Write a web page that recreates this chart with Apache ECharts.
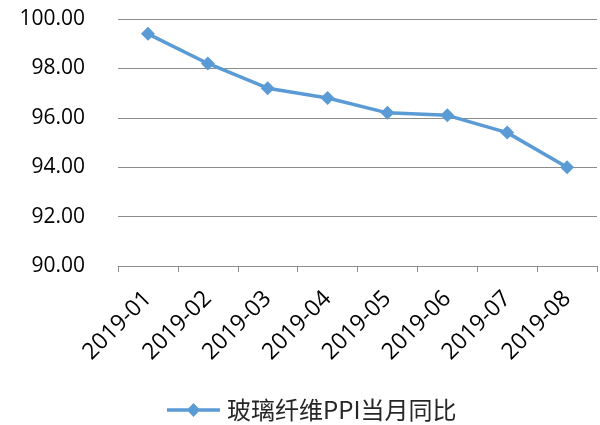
<!DOCTYPE html>
<html>
<head>
<meta charset="utf-8">
<script src="https://cdn.jsdelivr.net/npm/echarts@6/dist/echarts.min.js"></script>
<style>
  html, body { margin: 0; padding: 0; background: #fff; }
  #chart { width: 600px; height: 425px; }
</style>
</head>
<body>
<div id="chart"></div>
<script>
// Monthly glass-fibre PPI (same month of previous year = 100)
const months = ['2019-01', '2019-02', '2019-03', '2019-04', '2019-05', '2019-06', '2019-07', '2019-08'];
const ppiValues = [99.4, 98.2, 97.2, 96.8, 96.2, 96.1, 95.4, 94.0];
const seriesName = '玻璃纤维PPI当月同比';
const yMin = 90, yMax = 100, yStep = 2;

const latinFont = '"Open Sans", "Liberation Sans", sans-serif';
const cjkFont = '"Noto Sans CJK SC", "Open Sans", sans-serif';

// legend marker: a line with a diamond in the middle
const legendIcon = 'path://M0,5.25 L21.5,5.25 L26.5,0 L31.5,5.25 L53,5.25 L53,8.75 L31.5,8.75 L26.5,14 L21.5,8.75 L0,8.75 Z';

const chart = echarts.init(document.getElementById('chart'), null, { renderer: 'canvas' });
chart.setOption({
  animation: false,
  backgroundColor: '#ffffff',
  grid: { left: 118, right: 3, top: 19, bottom: 159, containLabel: false },
  legend: {
    top: 393,
    left: 162,
    itemWidth: 53,
    itemHeight: 14,
    itemGap: 8,
    textStyle: { fontFamily: cjkFont, fontSize: 24, color: '#262626', padding: [0, 0, 0, 2] },
    data: [{ name: seriesName, icon: legendIcon }]
  },
  xAxis: {
    type: 'category',
    data: months,
    boundaryGap: true,
    axisLine: { show: true, lineStyle: { color: '#8c8c8c', width: 1 } },
    axisTick: { show: true, length: 6, lineStyle: { color: '#8c8c8c' } },
    axisLabel: {
      rotate: 45,
      margin: 29,
      fontFamily: latinFont,
      fontSize: 23,
      color: '#000000'
    },
    splitLine: { show: false }
  },
  yAxis: {
    type: 'value',
    min: yMin,
    max: yMax,
    interval: yStep,
    axisLine: { show: false },
    axisTick: { show: false },
    axisLabel: {
      margin: 33,
      fontFamily: latinFont,
      fontSize: 21,
      color: '#000000',
      formatter: v => v.toFixed(2)
    },
    splitLine: { show: true, lineStyle: { color: '#8c8c8c', width: 1 } }
  },
  series: [{
    name: seriesName,
    type: 'line',
    data: ppiValues,
    symbol: 'diamond',
    symbolSize: 14,
    lineStyle: { color: '#5b9bd5', width: 3.5 },
    itemStyle: { color: '#5b9bd5' },
    emphasis: { disabled: true }
  }]
});
</script>
</body>
</html>
